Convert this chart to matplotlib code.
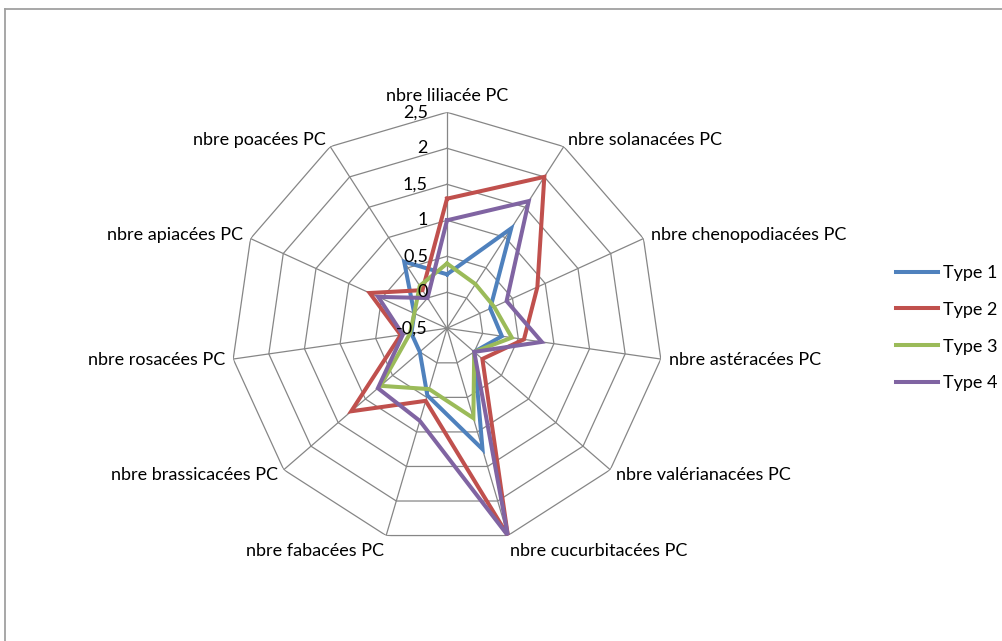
import numpy as np
import matplotlib
matplotlib.use('Agg')
import matplotlib.pyplot as plt
from matplotlib.lines import Line2D

plt.rcParams['font.family'] = ['Lato', 'DejaVu Sans']

categories = ['nbre liliacée PC', 'nbre solanacées PC', 'nbre chenopodiacées PC',
              'nbre astéracées PC', 'nbre valérianacées PC', 'nbre cucurbitacées PC',
              'nbre fabacées PC', 'nbre brassicacées PC', 'nbre rosacées PC',
              'nbre apiacées PC', 'nbre poacées PC']

type1 = [0.25, 1.15, 0.16, 0.27, 0.0, 1.25, 0.47, 0.0, 0.0, 0.0, 0.6]
type2 = [1.3, 2.0, 0.88, 0.58, 0.15, 2.5, 0.55, 1.26, 0.15, 0.68, 0.13]
type3 = [0.4, 0.23, 0.22, 0.41, 0.0, 0.8, 0.38, 0.72, 0.02, 0.0, 0.2]
type4 = [1.0, 1.6, 0.41, 0.83, 0.0, 2.5, 0.84, 0.77, 0.12, 0.55, 0.0]

series_names = ['Type 1', 'Type 2', 'Type 3', 'Type 4']
ring_values = [-0.5, 0, 0.5, 1, 1.5, 2, 2.5]
ring_labels = ['-0,5', '0', '0,5', '1', '1,5', '2', '2,5']

colors = ['#4F81BD', '#C0504D', '#9BBB59', '#8064A2']
grid_color = '#868686'

W, H = 1002, 641
fig = plt.figure(figsize=(W / 100, H / 100), dpi=100)

# radar centre and outer radius in pixels
cx, cy, rad = 447, 328.3, 216
ax = fig.add_axes([(cx - rad) / W, (H - cy - rad) / H, 2 * rad / W, 2 * rad / H],
                  projection='polar')
ax.set_theta_offset(np.pi / 2)
ax.set_theta_direction(-1)
ax.set_ylim(ring_values[0], ring_values[-1])
ax.grid(False)
ax.set_xticks([])
ax.set_yticks([])
ax.spines['polar'].set_visible(False)
ax.patch.set_visible(False)

n = len(categories)
theta = np.linspace(0, 2 * np.pi, n, endpoint=False)
closed = np.append(theta, theta[0])

# polygon rings and spokes
for v in ring_values[1:]:
    ax.plot(closed, [v] * (n + 1), color=grid_color, lw=0.9, zorder=1)
for t in theta:
    ax.plot([t, t], [ring_values[0], ring_values[-1]], color=grid_color, lw=0.9, zorder=1)

for vals, name, c in zip([type1, type2, type3, type4], series_names, colors):
    ax.plot(closed, vals + vals[:1], color=c, lw=2.9, label=name,
            solid_joinstyle='miter', zorder=3)

# value axis labels along the top spoke
for v, lab in zip(ring_values, ring_labels):
    ax.annotate(lab, xy=(0, v), xytext=(-19, 0), textcoords='offset pixels',
                ha='right', va='center', fontsize=13, zorder=4)

# category labels around the outside
for t, lab in zip(theta, categories):
    s, c = np.sin(t), np.cos(t)
    ha = 'center' if abs(s) < 0.1 else ('left' if s > 0 else 'right')
    if c > 0.9:
        va = 'bottom'
    elif c < -0.9:
        va = 'top'
    else:
        va = 'center'
    ax.annotate(lab, xy=(t, ring_values[-1]), xytext=(8 * s, 8 * c),
                textcoords='offset pixels', ha=ha, va=va, fontsize=13,
                annotation_clip=False)

fig.legend(loc='upper left', bbox_to_anchor=(896 / W, 1 - 265 / H), frameon=False,
           fontsize=13, handlelength=2.3, labelspacing=1.15, handletextpad=0.3,
           borderpad=0, borderaxespad=0)

# chart area border (top and left edges)
fig.add_artist(Line2D([5 / W, 5 / W], [0, 1 - 9 / H], color='#A0A0A0', lw=1.3))
fig.add_artist(Line2D([5 / W, 1], [1 - 9 / H, 1 - 9 / H], color='#A0A0A0', lw=1.3))

fig.savefig('out.png', dpi=100)
